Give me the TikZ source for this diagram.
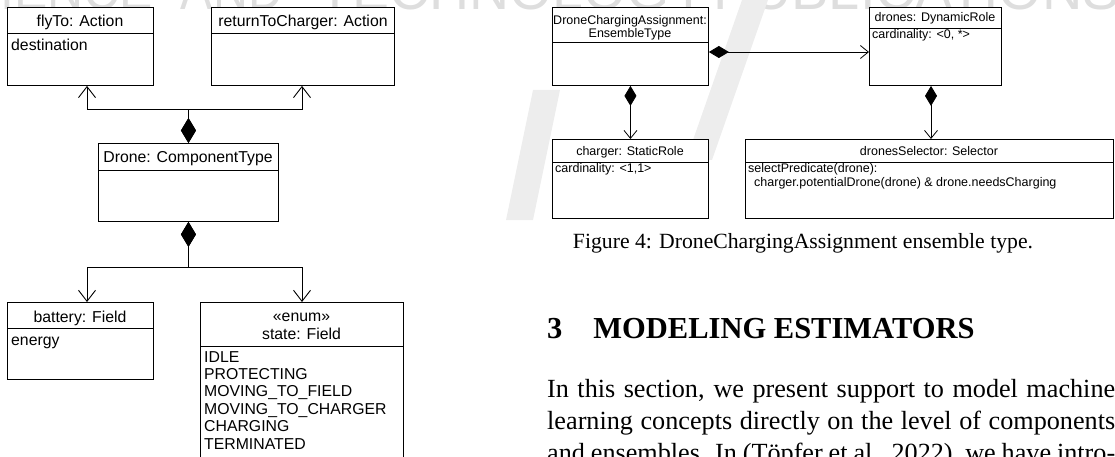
\documentclass[tikz,border=0pt]{standalone}
\usepackage{fontspec}
\setmainfont{Liberation Serif}
\setsansfont{Liberation Sans}
\usetikzlibrary{arrows.meta}
\tikzset{
  box/.style={draw=black, line width=0.9pt, fill=white, inner sep=0pt, anchor=north west},
  hline/.style={line width=0.9pt},
  lbl/.style={inner sep=0pt, font=\sffamily\fontsize{15.8}{17.4}\selectfont},
  slbl/.style={inner sep=0pt, font=\sffamily\fontsize{12.5}{14}\selectfont},
  comp/.style={line width=0.9pt, {Diamond[length=25pt,width=15pt]}-{Straight Barb[length=11pt,width=17pt]}},
  scomp/.style={line width=0.8pt, {Diamond[length=20pt,width=12pt]}-{Straight Barb[length=8pt,width=13pt]}},
  wm/.style={inner sep=0pt, anchor=south, text=black!13, font=\sffamily},
  paper/.style={inner sep=0pt, anchor=base west, font=\fontsize{26.2}{32}\selectfont},
}
\newcommand{\jline}[1]{\makebox[568pt][s]{#1}}
\begin{document}
\begin{tikzpicture}[x=1pt,y=-1pt]
\useasboundingbox (0,0) rectangle (1115,457);
\clip (0,0) rectangle (1115,457);
% watermark
\node[wm] (wm1) at (42,10) {\resizebox{222pt}{40pt}{SCIENCE}};
\node[wm] (wm2) at (232,10) {\resizebox{102pt}{40pt}{AND}};
\node[wm] (wm3) at (513,10) {\resizebox{388pt}{40pt}{TECHNOLOGY}};
\node[wm] (wm4) at (917,10) {\resizebox{406pt}{40pt}{PUBLICATIONS}};
\fill[black!7] (742,0) -- (768,0) -- (712,160) -- (686,160) -- cycle;
\fill[black!7] (533,90) -- (560,90) -- (533,220) -- (506,220) -- cycle;
% ---- left diagram ----
\node[box, minimum width=146pt, minimum height=78pt] (flyTo) at (7,7) {};
\draw[hline] (flyTo.west |- 0,33) -- (flyTo.east |- 0,33);
\node[lbl, anchor=base] (flyToT) at (80,27) {flyTo: Action};
\node[lbl, anchor=base west] (flyToA) at (11,51) {destination};

\node[box, minimum width=183pt, minimum height=78pt] (rtc) at (211,7) {};
\draw[hline] (rtc.west |- 0,33) -- (rtc.east |- 0,33);
\node[lbl, anchor=base] (rtcT) at (303,27) {returnToCharger: Action};

\node[box, minimum width=180pt, minimum height=78pt] (drone) at (98,143) {};
\draw[hline] (drone.west |- 0,170) -- (drone.east |- 0,170);
\node[lbl, anchor=base] (droneT) at (188,163) {Drone: ComponentType};

\node[box, minimum width=146pt, minimum height=77pt] (battery) at (7,302) {};
\draw[hline] (battery.west |- 0,328) -- (battery.east |- 0,328);
\node[lbl, anchor=base] (batteryT) at (80,322) {battery: Field};
\node[lbl, anchor=base west] (batteryA) at (11,345) {energy};

\node[box, minimum width=203pt, minimum height=170pt] (state) at (200,302) {};
\draw[hline] (state.west |- 0,346) -- (state.east |- 0,346);
\node[lbl, anchor=base] (stateS) at (301.5,321) {«enum»};
\node[lbl, anchor=base] (stateT) at (301.5,339) {state: Field};
\node[lbl, anchor=base west] (st1) at (204,362) {IDLE};
\node[lbl, anchor=base west] (st2) at (204,379.4) {PROTECTING};
\node[lbl, anchor=base west] (st3) at (204,396.8) {MOVING\_TO\_FIELD};
\node[lbl, anchor=base west] (st4) at (204,414.2) {MOVING\_TO\_CHARGER};
\node[lbl, anchor=base west] (st5) at (204,431.6) {CHARGING};
\node[lbl, anchor=base west] (st6) at (204,449) {TERMINATED};

\draw[comp] (drone.north) |- (87,109) -- (flyTo.south -| 87,0);
\draw[comp] (drone.north) |- (302,109) -- (rtc.south -| 302,0);
\draw[comp] (drone.south) |- (87,267) -- (battery.north -| 87,0);
\draw[comp] (drone.south) |- (302,267) -- (state.north -| 302,0);

% ---- right diagram ----
\node[box, minimum width=156pt, minimum height=78pt] (dca) at (552,7) {};
\draw[hline] (dca.west |- 0,42) -- (dca.east |- 0,42);
\node[slbl, anchor=base] (dcaT1) at (630,25) {DroneChargingAssignment:};
\node[slbl, anchor=base] (dcaT2) at (630,37.5) {EnsembleType};

\node[box, minimum width=132pt, minimum height=78pt] (drones) at (869,7) {};
\draw[hline] (drones.west |- 0,28) -- (drones.east |- 0,28);
\node[slbl, anchor=base] (dronesT) at (935,22) {drones: DynamicRole};
\node[slbl, anchor=base west] (dronesA) at (872,39) {cardinality: <0, *>};

\node[box, minimum width=156pt, minimum height=79pt] (charger) at (552,139) {};
\draw[hline] (charger.west |- 0,162) -- (charger.east |- 0,162);
\node[slbl, anchor=base] (chargerT) at (630,156) {charger: StaticRole};
\node[slbl, anchor=base west] (chargerA) at (555,172) {cardinality: <1,1>};

\node[box, minimum width=368pt, minimum height=79pt] (selector) at (745,139) {};
\draw[hline] (selector.west |- 0,162) -- (selector.east |- 0,162);
\node[slbl, anchor=base] (selectorT) at (929,156) {dronesSelector: Selector};
\node[slbl, anchor=base west] (selectorA1) at (748,172) {selectPredicate(drone):};
\node[slbl, anchor=base west] (selectorA2) at (754,186) {charger.potentialDrone(drone) \& drone.needsCharging};

\draw[scomp] (dca.east |- 0,52) -- (drones.west |- 0,52);
\draw[scomp] (dca.south) -- (charger.north);
\draw[scomp] (drones.south -| 931,0) -- (selector.north -| 931,0);

% ---- paper text ----
\node[inner sep=0pt, anchor=base, font=\fontsize{21.7}{26}\selectfont] (caption) at (803,248)
  {Figure 4: DroneChargingAssignment ensemble type.};
\node[inner sep=0pt, anchor=base west, font=\bfseries\fontsize{30.5}{36}\selectfont] (sec) at (547,338)
  {3\hspace{31pt}MODELING ESTIMATORS};
\node[paper] (p1) at (547,397) {\jline{In this section, we present support to model machine}};
\node[paper] (p2) at (547,429) {\jline{learning concepts directly on the level of components}};
\node[paper] (p3) at (547,461) {\jline{and ensembles. In (Töpfer et al., 2022), we have intro-}};
\end{tikzpicture}
\end{document}
